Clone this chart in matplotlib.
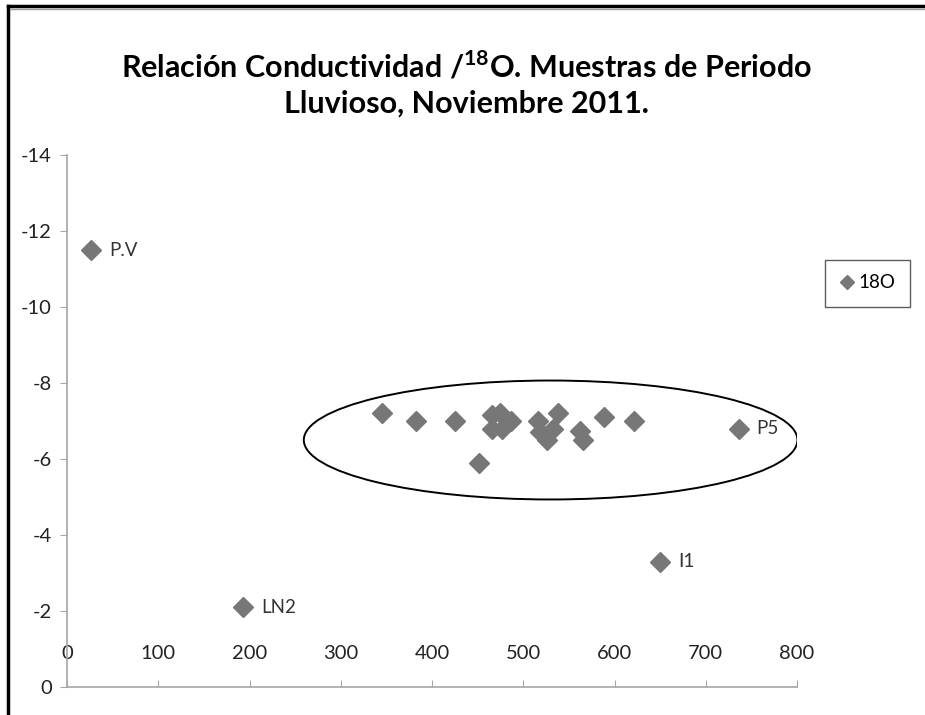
import matplotlib.pyplot as plt
from matplotlib.patches import Ellipse
from matplotlib.lines import Line2D

# conductividad (uS/cm) vs d18O, muestras noviembre 2011
conductividad = [26, 193, 650, 736, 345, 382, 425, 451, 466, 475, 487, 466,
                 477, 516, 538, 518, 526, 533, 562, 566, 588, 621]
o18 = [-11.5, -2.1, -3.3, -6.8, -7.2, -7.0, -7.0, -5.9, -7.15, -7.2, -7.0, -6.8,
       -6.8, -7.0, -7.2, -6.7, -6.5, -6.8, -6.75, -6.5, -7.1, -7.0]
etiquetas = ["P.V", "LN2", "I1", "P5"] + [""] * 18

x_ticks = [0, 100, 200, 300, 400, 500, 600, 700, 800]
y_ticks = [0, -2, -4, -6, -8, -10, -12, -14]

# zona agrupada (elipse)
elipse_centro = (530, -6.5)
elipse_ancho = 541
elipse_alto = 3.13

plt.rcParams['font.family'] = ['Lato', 'DejaVu Sans']
plt.rcParams['mathtext.fontset'] = 'custom'
plt.rcParams['mathtext.bf'] = 'Lato:bold'
plt.rcParams['mathtext.rm'] = 'Lato'

fig = plt.figure(figsize=(9.25, 7.15), dpi=100)
ax = fig.add_axes([67 / 925, 1 - 687 / 715, 730 / 925, 532 / 715])

marker_color = '#777777'
axis_color = '#a6a6a6'
text_color = '#333333'

ax.plot(conductividad, o18, linestyle='none', marker='D', markersize=10,
        color=marker_color, label='18O')

for xv, yv, lab in zip(conductividad, o18, etiquetas):
    if lab:
        ax.annotate(lab, (xv, yv), xytext=(13, 0), textcoords='offset points',
                    va='center', ha='left', fontsize=13.5, color=text_color)

ax.add_patch(Ellipse(elipse_centro, elipse_ancho, elipse_alto, fill=False,
                     edgecolor='black', linewidth=1.4))

ax.set_xlim(0, 800)
ax.set_ylim(0, -14)
ax.set_xticks(x_ticks)
ax.set_yticks(y_ticks)
ax.set_xticklabels([str(v) for v in x_ticks])
ax.set_yticklabels([str(v) for v in y_ticks])

for s in ['top', 'right']:
    ax.spines[s].set_visible(False)
for s in ['left', 'bottom']:
    ax.spines[s].set_color(axis_color)
    ax.spines[s].set_linewidth(1.2)

ax.tick_params(axis='x', direction='in', length=5, color=axis_color,
               pad=-30, labelsize=14.5, labelcolor='#222222')
ax.tick_params(axis='y', direction='out', length=5, color=axis_color,
               pad=6, labelsize=14.5, labelcolor='#222222')

# titulo
fig.text(0.504, 1 - 66 / 715, r'Relación Conductividad /$^{\mathbf{18}}$O. Muestras de Periodo',
         ha='center', va='center', fontsize=22, fontweight='bold', color='black')
fig.text(0.504, 1 - 104 / 715, 'Lluvioso, Noviembre 2011.',
         ha='center', va='center', fontsize=22, fontweight='bold', color='black')

leg = ax.legend(loc='center', bbox_to_anchor=(867.5 / 925, 1 - 283 / 715),
                bbox_transform=fig.transFigure, frameon=True, fancybox=False,
                fontsize=13.5, handlelength=0.8, handletextpad=0.2,
                borderpad=0.8, markerscale=0.7)
leg.get_frame().set_edgecolor('#333333')
leg.get_frame().set_linewidth(1.0)

# marco de la imagen
fig.add_artist(Line2D([8 / 925, 8 / 925], [0, 1 - 6 / 715], color='black',
                      linewidth=2.5, transform=fig.transFigure))
fig.add_artist(Line2D([8 / 925, 1], [1 - 6 / 715, 1 - 6 / 715], color='black',
                      linewidth=2.5, transform=fig.transFigure))
fig.add_artist(Line2D([10 / 925, 1], [1 - 9 / 715, 1 - 9 / 715], color='#999999',
                      linewidth=1, transform=fig.transFigure))

fig.savefig('out.png', dpi=100, facecolor='white')
